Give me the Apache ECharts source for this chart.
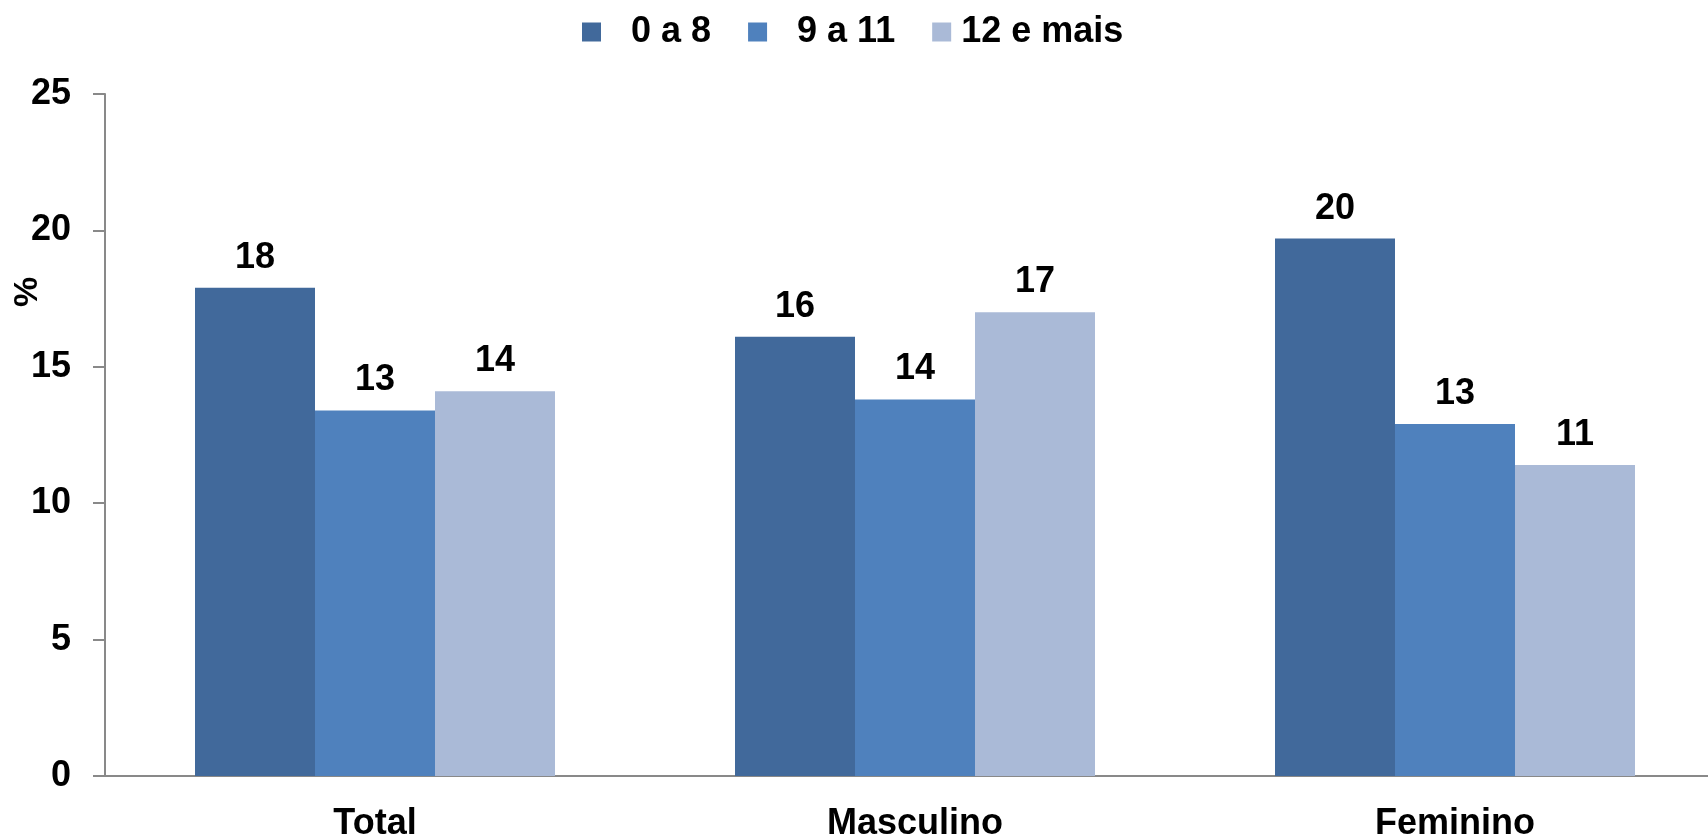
<!DOCTYPE html>
<html>
<head>
<meta charset="utf-8">
<title>Grupos de escolaridade</title>
<script src="https://cdn.jsdelivr.net/npm/echarts@6/dist/echarts.min.js"></script>
<style>
    html, body {margin: 0; padding: 0; background: #fff;}
    #chart {width: 1708px; height: 837px;}
</style>
</head>
<body>
<div id="chart"></div>
<script>
    // categorias e séries
    const categories = ['Total', 'Masculino', 'Feminino'];
    const seriesNames = ['0 a 8', '9 a 11', '12 e mais'];
    const serie0a8 = [17.9, 16.1, 19.7];
    const serie9a11 = [13.4, 13.8, 12.9];
    const serie12mais = [14.1, 17.0, 11.4];
    const yTicks = [0, 5, 10, 15, 20, 25];

    const colors = ['#41699b', '#4f81bd', '#aabad7'];
    const font = "'Liberation Sans', Arial, sans-serif";

    const chart = echarts.init(document.getElementById('chart'));

    const makeSeries = (name, data, color) => ({
        name: name,
        type: 'bar',
        data: data,
        barWidth: 120,
        barGap: '0%',
        itemStyle: {color: color},
        label: {
            show: true,
            position: 'top',
            distance: 12,
            formatter: p => Math.round(p.value),
            color: '#000',
            fontFamily: font,
            fontWeight: 'bold',
            fontSize: 36
        }
    });

    const option = {
        animation: false,
        legend: {
            top: 14,
            left: 582,
            padding: 0,
            itemWidth: 19,
            itemHeight: 19,
            itemGap: 37,
            icon: 'rect',
            data: [
                {name: seriesNames[0], textStyle: {padding: [0, 0, 0, 25]}},
                {name: seriesNames[1], textStyle: {padding: [0, 0, 0, 25]}},
                {name: seriesNames[2], textStyle: {padding: [0, 0, 0, 5]}}
            ],
            textStyle: {
                color: '#000',
                fontFamily: font,
                fontWeight: 'bold',
                fontSize: 36
            }
        },
        // o eixo x continua para lá da margem direita, como no original
        grid: {
            left: 105,
            width: 1620,
            top: 94,
            bottom: 61,
            outerBoundsMode: 'none'
        },
        xAxis: {
            type: 'category',
            data: categories,
            axisLine: {lineStyle: {color: '#898989', width: 2}},
            axisTick: {show: false},
            axisLabel: {
                margin: 30,
                color: '#000',
                fontFamily: font,
                fontWeight: 'bold',
                fontSize: 36
            }
        },
        yAxis: {
            type: 'value',
            min: yTicks[0],
            max: yTicks[yTicks.length - 1],
            interval: 5,
            axisLine: {show: true, lineStyle: {color: '#898989', width: 2}},
            axisTick: {show: true, length: 12, lineStyle: {color: '#898989', width: 2}},
            splitLine: {show: false},
            axisLabel: {
                margin: 34,
                color: '#000',
                fontFamily: font,
                fontWeight: 'bold',
                fontSize: 36
            }
        },
        graphic: [{
            type: 'text',
            x: 28,
            y: 292,
            rotation: Math.PI / 2,
            style: {
                text: '%',
                fill: '#000',
                font: 'bold 34px ' + font,
                align: 'center',
                verticalAlign: 'middle'
            }
        }],
        series: [
            makeSeries(seriesNames[0], serie0a8, colors[0]),
            makeSeries(seriesNames[1], serie9a11, colors[1]),
            makeSeries(seriesNames[2], serie12mais, colors[2])
        ]
    };

    chart.setOption(option);
</script>
</body>
</html>
